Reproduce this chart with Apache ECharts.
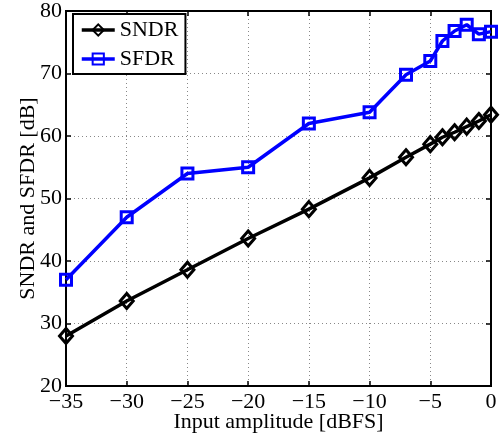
<!DOCTYPE html>
<html>
<head>
<meta charset="utf-8">
<script src="https://cdn.jsdelivr.net/npm/echarts@6/dist/echarts.min.js"></script>
<style>html,body{margin:0;padding:0;background:#fff}#c{width:501px;height:441px}</style>
</head>
<body>
<div id="c"></div>
<script>
const inputAmp = [-35, -30, -25, -20, -15, -10, -7, -5, -4, -3, -2, -1, 0];
const sndr = [28.0, 33.6, 38.6, 43.6, 48.3, 53.3, 56.6, 58.7, 59.8, 60.6, 61.5, 62.4, 63.4];
const sfdr = [37.0, 47.0, 54.0, 55.0, 62.0, 63.8, 69.8, 72.0, 75.2, 76.8, 77.8, 76.3, 76.7];
const xTicks = [-35, -30, -25, -20, -15, -10, -5, 0];
const yTicks = [20, 30, 40, 50, 60, 70, 80];

const font = 'Liberation Serif';
const fs = 22;
const minus = v => String(v).replace('-', '\u2212');

const chart = echarts.init(document.getElementById('c'));
const tickStyle = {show: true, inside: true, length: 5, lineStyle: {color: '#000', width: 1.5}};
const axisLine = {show: true, onZero: false, lineStyle: {color: '#000', width: 2}};
const grid = {show: true, type: [1, 3], color: '#888', width: 1};

chart.setOption({
  animation: false,
  backgroundColor: '#fff',
  grid: {left: 66, right: 10, top: 9, bottom: 55, show: true, borderColor: '#000', borderWidth: 2},
  legend: {
    show: true, orient: 'vertical', left: 73, top: 14,
    padding: [5, 7, 4, 7], itemGap: 7, itemWidth: 33, itemHeight: 14,
    borderColor: '#000', borderWidth: 2, backgroundColor: '#fff', borderRadius: 0,
    lineStyle: {width: 3.5},
    textStyle: {fontFamily: font, fontSize: fs, color: '#000'},
    data: ['SNDR', 'SFDR']
  },
  xAxis: [{
    type: 'value', min: -35, max: 0, interval: 5,
    name: 'Input amplitude [dBFS]', nameLocation: 'middle', nameGap: 25, nameMoveOverlap: false,
    nameTextStyle: {fontFamily: font, fontSize: fs, color: '#000'},
    axisLine, axisTick: tickStyle,
    axisLabel: {fontFamily: font, fontSize: fs, color: '#000', margin: 5,
      formatter: v => xTicks.includes(v) ? minus(v) : ''},
    splitLine: {show: true, lineStyle: grid}
  }, {
    type: 'value', min: -35, max: 0, interval: 5, position: 'top',
    axisLine, axisTick: tickStyle, axisLabel: {show: false}, splitLine: {show: false}
  }],
  yAxis: [{
    type: 'value', min: 20, max: 80, interval: 10,
    name: 'SNDR and SFDR [dB]', nameLocation: 'middle', nameGap: 27, nameMoveOverlap: false,
    nameTextStyle: {fontFamily: font, fontSize: fs, color: '#000'},
    axisLine, axisTick: tickStyle,
    axisLabel: {fontFamily: font, fontSize: fs, color: '#000', margin: 4,
      formatter: v => yTicks.includes(v) ? minus(v) : ''},
    splitLine: {show: true, lineStyle: grid}
  }, {
    type: 'value', min: 20, max: 80, interval: 10, position: 'right',
    axisLine, axisTick: tickStyle, axisLabel: {show: false}, splitLine: {show: false}
  }],
  series: [{
    name: 'SNDR', type: 'line',
    data: inputAmp.map((x, i) => [x, sndr[i]]),
    symbol: 'diamond', symbolSize: [13, 15], showAllSymbol: true,
    lineStyle: {color: '#000', width: 3.5},
    itemStyle: {color: 'rgba(255,255,255,0)', borderColor: '#000', borderWidth: 3},
    z: 3
  }, {
    name: 'SFDR', type: 'line',
    data: inputAmp.map((x, i) => [x, sfdr[i]]),
    symbol: 'rect', symbolSize: 11, showAllSymbol: true,
    lineStyle: {color: '#0000ff', width: 3.5},
    itemStyle: {color: 'rgba(255,255,255,0)', borderColor: '#0000ff', borderWidth: 3},
    z: 3
  }]
});
</script>
</body>
</html>
